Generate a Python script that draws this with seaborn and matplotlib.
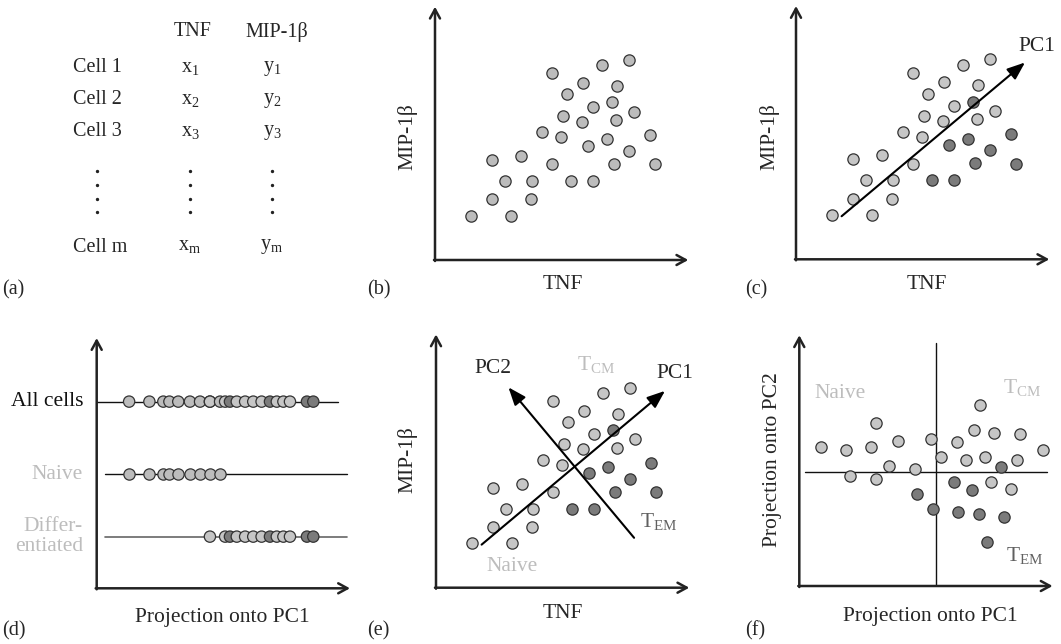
import numpy as np
import matplotlib
matplotlib.use("Agg")
import matplotlib.pyplot as plt
import seaborn as sns

# ---- data -------------------------------------------------------------
# panel (a): table of measurements
table_cols = ["TNF", "MIP-1β"]
table_rows = ["Cell 1", "Cell 2", "Cell 3", "Cell m"]
table_x = [r"$\mathrm{x}_1$", r"$\mathrm{x}_2$", r"$\mathrm{x}_3$", r"$\mathrm{x}_\mathrm{m}$"]
table_y = [r"$\mathrm{y}_1$", r"$\mathrm{y}_2$", r"$\mathrm{y}_3$", r"$\mathrm{y}_\mathrm{m}$"]

# panels (b), (c), (e): cells in TNF / MIP-1b space (0-10 schematic units)
tnf = [1.41, 2.24, 2.26, 2.76, 3.00, 3.38, 3.79, 3.82, 4.24, 4.61, 4.61,
       4.97, 5.04, 5.20, 5.37, 5.79, 5.86, 6.04, 6.25, 6.25, 6.61, 6.78,
       6.97, 7.07, 7.13, 7.20, 7.67, 7.67, 7.87, 8.47, 8.67]
mip = [1.75, 2.39, 3.95, 3.12, 1.75, 4.10, 2.39, 3.12, 5.04, 7.37, 3.78,
       4.84, 5.67, 6.54, 3.12, 5.46, 6.99, 4.51, 6.05, 3.12, 7.68, 4.76,
       6.22, 3.79, 5.53, 6.87, 7.89, 4.30, 5.86, 4.93, 3.78]
# 1 = differentiated (dark) cells
dark = [0, 0, 0, 0, 0, 0, 0, 0, 0, 0, 0,
        0, 0, 0, 1, 0, 0, 1, 0, 1, 0, 1,
        1, 1, 0, 0, 0, 1, 0, 1, 1]

# principal component arrows (start, end) in TNF / MIP-1b units
pc1_arrow = [(1.80, 1.70), (9.04, 7.77)]
pc2_arrow = [(7.82, 1.97), (2.86, 7.91)]

# panel (d): projections onto PC1
naive_proj = [1.28, 2.08, 2.63, 2.87, 3.22, 3.68, 4.08, 4.47, 4.87]
diff_light_proj = [4.47, 5.07, 5.53, 5.86, 6.18, 6.51, 7.11, 7.37, 7.63]
diff_dark_proj = [5.26, 6.84, 8.30, 8.55]
row_labels = ["All cells", "Naive", "Differ-\nentiated"]

# panel (f): projections onto PC1 / PC2
f_light_x = [0.84, 1.84, 2.00, 2.82, 3.01, 3.01, 3.54, 3.91, 4.57, 5.18, 5.58,
             6.21, 6.58, 6.91, 7.13, 7.33, 7.68, 7.57, 8.34, 8.61, 8.71, 9.63]
f_light_y = [5.47, 5.37, 4.36, 5.47, 4.24, 6.42, 4.74, 5.74, 4.62, 5.79, 5.11,
             5.67, 4.99, 6.16, 7.16, 5.09, 6.04, 4.09, 3.82, 4.99, 6.00, 5.37]
f_dark_x = [4.66, 5.29, 6.11, 6.80, 7.96, 6.25, 7.09, 8.08, 7.42]
f_dark_y = [3.63, 3.03, 4.12, 3.79, 4.71, 2.92, 2.84, 2.74, 1.75]
f_split_x = 5.39
f_split_y = 4.49

# ---- style ------------------------------------------------------------
sns.set_theme(style="white")
plt.rcParams['font.family'] = ['Liberation Serif', 'DejaVu Serif']
plt.rcParams['mathtext.fontset'] = 'custom'
plt.rcParams['mathtext.rm'] = 'Liberation Serif'

W, H = 1061, 644
FS = 15.5
C_AXIS = '#222222'
C_MID = '#bcbcbc'
C_LIGHT = '#c6c6c6'
C_DARK = '#7b7b7b'
C_EDGE = '#333333'
C_LABEL_LIGHT = '#bdbdbd'
C_LABEL_DARK = '#606060'
PT = dict(s=66, edgecolor=C_EDGE, linewidth=0.9, legend=False, zorder=3)

fig = plt.figure(figsize=(W / 100, H / 100), dpi=100)


def panel(ox, oy, size=253.3):
    """Axes whose (0, 0) sits at pixel (ox, oy), 10 units = size px."""
    ax = fig.add_axes([ox / W, (H - oy) / H, size / W, size / H])
    ax.set_xlim(0, 10)
    ax.set_ylim(0, 10)
    ax.axis('off')
    return ax


def draw_axes(ax, xend=10, yend=10):
    style = dict(arrowstyle='->,head_length=0.55,head_width=0.3', lw=1.8,
                 color=C_AXIS, shrinkA=0, shrinkB=0)
    ax.annotate('', xy=(xend, 0), xytext=(-0.04, 0), arrowprops=style, annotation_clip=False)
    ax.annotate('', xy=(0, yend), xytext=(0, -0.04), arrowprops=style, annotation_clip=False)


def pc_arrow(ax, arrow):
    (x0, y0), (x1, y1) = arrow
    ax.annotate('', xy=(x1, y1), xytext=(x0, y0), annotation_clip=False,
                arrowprops=dict(arrowstyle='-|>,head_length=0.9,head_width=0.35',
                                lw=1.5, color='black', shrinkA=0, shrinkB=0))


tnf = np.array(tnf)
mip = np.array(mip)
dark = np.array(dark, dtype=bool)

# ---- (a) table --------------------------------------------------------
axa = fig.add_axes([0, (H - 310) / H, 360 / W, 310 / H])
axa.set_xlim(0, 360)
axa.set_ylim(310, 0)
axa.axis('off')
col_x = [193, 277]
row_y = [68, 100, 132, 247]
for cx, name in zip(col_x, table_cols):
    axa.text(cx, 32, name, ha='center', va='center', fontsize=FS - 1)
for ry, name, xv, yv in zip(row_y, table_rows, table_x, table_y):
    axa.text(73, ry, name, ha='left', va='center', fontsize=FS - 1)
    axa.text(col_x[0] - 3, ry, xv, ha='center', va='center', fontsize=FS - 1)
    axa.text(col_x[1] - 5, ry, yv, ha='center', va='center', fontsize=FS - 1)
for cx in [97, 190, 272]:
    axa.plot([cx] * 4, [171, 185, 199, 212], ls='none', marker='o',
             ms=1.4, color='#222222')

# ---- (b) raw scatter --------------------------------------------------
axb = panel(435, 260)
draw_axes(axb)
sns.scatterplot(x=tnf, y=mip, color=C_MID, ax=axb, **PT)
axb.text(5.05, -0.98, 'TNF', ha='center', va='center', fontsize=FS)
axb.text(-1.1, 4.86, 'MIP-1β', ha='center', va='center', rotation=90, fontsize=FS)

# ---- (c) PC1 ----------------------------------------------------------
axc = panel(796, 259.3)
draw_axes(axc)
sns.scatterplot(x=tnf[~dark], y=mip[~dark], color=C_LIGHT, ax=axc, **PT)
sns.scatterplot(x=tnf[dark], y=mip[dark], color=C_DARK, ax=axc, **PT)
pc_arrow(axc, pc1_arrow)
axc.text(9.5, 8.39, 'PC1', ha='center', va='center', fontsize=FS)
axc.text(5.17, -1.0, 'TNF', ha='center', va='center', fontsize=FS)
axc.text(-1.03, 4.84, 'MIP-1β', ha='center', va='center', rotation=90, fontsize=FS)

# ---- (d) projection onto PC1 -----------------------------------------
axd = panel(96.7, 588.3)
draw_axes(axd, xend=10.0, yend=9.88)
row_pos = [7.37, 4.50, 2.04]
axd.plot([0, 9.53], [row_pos[0]] * 2, color='#111111', lw=1.0, zorder=1)
axd.plot([0.33, 9.87], [row_pos[1]] * 2, color='#111111', lw=1.0, zorder=1)
axd.plot([0.33, 9.87], [row_pos[2]] * 2, color='#666666', lw=1.2, zorder=1)
all_x = naive_proj + diff_light_proj + diff_dark_proj
all_c = [C_MID] * len(naive_proj) + [C_LIGHT] * len(diff_light_proj) + [C_DARK] * len(diff_dark_proj)
order = np.argsort(all_x)
sns.scatterplot(x=np.array(all_x)[order], y=[row_pos[0]] * len(all_x),
                c=np.array(all_c)[order], ax=axd, **PT)
sns.scatterplot(x=naive_proj, y=[row_pos[1]] * len(naive_proj), color=C_MID, ax=axd, **PT)
diff_x = diff_light_proj + diff_dark_proj
diff_c = [C_LIGHT] * len(diff_light_proj) + [C_DARK] * len(diff_dark_proj)
order = np.argsort(diff_x)
sns.scatterplot(x=np.array(diff_x)[order], y=[row_pos[2]] * len(diff_x),
                c=np.array(diff_c)[order], ax=axd, **PT)
for yp, lab, col in zip(row_pos, row_labels, ['#111111', C_LABEL_LIGHT, C_LABEL_LIGHT]):
    axd.text(-0.54, yp, lab, ha='right', va='center', fontsize=FS, color=col,
             linespacing=1.1)
axd.text(4.95, -1.17, 'Projection onto PC1', ha='center', va='center', fontsize=FS)

# ---- (e) PC1 + PC2 ----------------------------------------------------
axe = panel(436, 587.7)
draw_axes(axe)
sns.scatterplot(x=tnf[~dark], y=mip[~dark], color=C_LIGHT, ax=axe, **PT)
sns.scatterplot(x=tnf[dark], y=mip[dark], color=C_DARK, ax=axe, **PT)
pc_arrow(axe, pc1_arrow)
pc_arrow(axe, pc2_arrow)
axe.text(9.43, 8.46, 'PC1', ha='center', va='center', fontsize=FS)
axe.text(2.26, 8.66, 'PC2', ha='center', va='center', fontsize=FS)
axe.text(6.34, 8.79, r'T$_\mathrm{CM}$', ha='center', va='center', fontsize=FS, color=C_LABEL_LIGHT)
axe.text(8.78, 2.6, r'T$_\mathrm{EM}$', ha='center', va='center', fontsize=FS, color=C_LABEL_DARK)
axe.text(2.99, 0.83, 'Naive', ha='center', va='center', fontsize=FS, color=C_LABEL_LIGHT)
axe.text(5.01, -1.0, 'TNF', ha='center', va='center', fontsize=FS)
axe.text(-1.14, 5.04, 'MIP-1β', ha='center', va='center', rotation=90, fontsize=FS)

# ---- (f) PC1 vs PC2 ---------------------------------------------------
axf = panel(799.3, 586)
draw_axes(axf, xend=10.0, yend=9.9)
axf.plot([f_split_x, f_split_x], [0, 9.58], color='#111111', lw=1.0, zorder=1)
axf.plot([0.22, 9.79], [f_split_y, f_split_y], color='#111111', lw=1.0, zorder=1)
sns.scatterplot(x=f_light_x, y=f_light_y, color=C_LIGHT, ax=axf, **PT)
sns.scatterplot(x=f_dark_x, y=f_dark_y, color=C_DARK, ax=axf, **PT)
axf.text(1.6, 7.6, 'Naive', ha='center', va='center', fontsize=FS, color=C_LABEL_LIGHT)
axf.text(8.78, 7.8, r'T$_\mathrm{CM}$', ha='center', va='center', fontsize=FS, color=C_LABEL_LIGHT)
axf.text(8.9, 1.16, r'T$_\mathrm{EM}$', ha='center', va='center', fontsize=FS, color=C_LABEL_DARK)
axf.text(5.16, -1.22, 'Projection onto PC1', ha='center', va='center', fontsize=FS)
axf.text(-1.04, 4.97, 'Projection onto PC2', ha='center', va='center', rotation=90, fontsize=FS)

# ---- panel letters ----------------------------------------------------
for lab, px, py in [('(a)', 2, 290), ('(b)', 367, 290), ('(c)', 745, 290),
                    ('(d)', 2, 631), ('(e)', 367, 631), ('(f)', 745, 631)]:
    fig.text(px / W, 1 - py / H, lab, ha='left', va='center', fontsize=FS - 1)

fig.savefig('out.png', dpi=100)
